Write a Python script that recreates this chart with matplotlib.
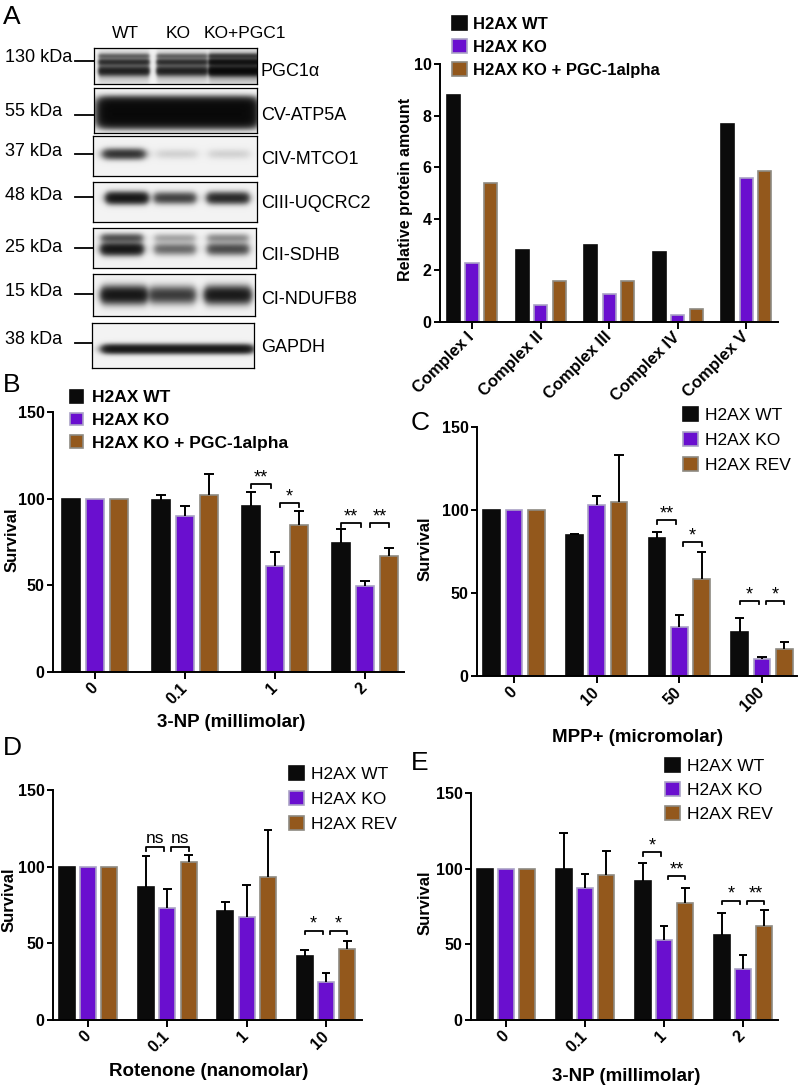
import numpy as np
import matplotlib
matplotlib.use('Agg')
import matplotlib.pyplot as plt
import matplotlib.transforms as mtransforms
from matplotlib.patches import Patch

W, H = 800, 1085

# --- Panel A: western blot ---
lane_names = ['WT', 'KO', 'KO+PGC1']
blot_proteins = ['PGC1α', 'CV-ATP5A', 'CIV-MTCO1', 'CIII-UQCRC2', 'CII-SDHB', 'CI-NDUFB8', 'GAPDH']
blot_markers = ['130 kDa', '55 kDa', '37 kDa', '48 kDa', '25 kDa', '15 kDa', '38 kDa']
band_wt = [0.8, 1.0, 0.65, 1.0, 1.0, 1.0, 1.0]
band_ko = [0.8, 1.0, 0.06, 0.55, 0.35, 0.6, 1.0]
band_pgc = [1.3, 1.0, 0.06, 0.75, 0.5, 0.95, 1.0]

# --- Panel A: quantification ---
legend_a = ['H2AX WT', 'H2AX KO', 'H2AX KO + PGC-1alpha']
complexes = ['Complex I', 'Complex II', 'Complex III', 'Complex IV', 'Complex V']
protein_wt = [8.8, 2.8, 2.97, 2.7, 7.68]
protein_ko = [2.3, 0.65, 1.07, 0.27, 5.57]
protein_pgc = [5.4, 1.58, 1.57, 0.52, 5.87]

# --- Panel B: 3-NP, PGC-1alpha rescue ---
b_doses = ['0', '0.1', '1', '2']
b_wt = [100, 99.4, 95.8, 74.7]
b_wt_sd = [0, 2.6, 8.0, 7.7]
b_ko = [100, 89.8, 61.0, 49.8]
b_ko_sd = [0, 6.2, 8.3, 2.5]
b_pgc = [100, 102.3, 84.7, 66.7]
b_pgc_sd = [0, 11.7, 8.2, 5.1]
b_sig = [(2, 0, 108.6, '**'), (2, 1, 97.5, '*'), (3, 0, 86, '**'), (3, 1, 86, '**')]

# --- Panel C: MPP+ ---
legend_rev = ['H2AX WT', 'H2AX KO', 'H2AX REV']
c_doses = ['0', '10', '50', '100']
c_wt = [100, 84.7, 83.3, 26.4]
c_wt_sd = [0, 1.0, 3.2, 8.3]
c_ko = [100, 103.2, 29.4, 10.1]
c_ko_sd = [0, 5.3, 7.1, 1.6]
c_rev = [100, 105, 58.7, 16.3]
c_rev_sd = [0, 28, 16.1, 4.3]
c_sig = [(2, 0, 94, '**'), (2, 1, 80.8, '*'), (3, 0, 45.4, '*'), (3, 1, 45.4, '*')]

# --- Panel D: rotenone ---
d_doses = ['0', '0.1', '1', '10']
d_wt = [100, 87, 71.3, 41.7]
d_wt_sd = [0, 20.2, 5.4, 4.0]
d_ko = [100, 72.8, 67.4, 25]
d_ko_sd = [0, 12.9, 20.6, 5.9]
d_rev = [100, 103.3, 93.5, 46.3]
d_rev_sd = [0, 4.3, 30.5, 5.4]
d_sig = [(1, 0, 112.6, 'ns'), (1, 1, 112.6, 'ns'), (3, 0, 58.3, '*'), (3, 1, 58.3, '*')]

# --- Panel E: 3-NP, REV ---
e_doses = ['0', '0.1', '1', '2']
e_wt = [100, 100, 91.8, 56.2]
e_wt_sd = [0, 23.8, 12.2, 14.5]
e_ko = [100, 87.3, 52.7, 34]
e_ko_sd = [0, 9.4, 9.5, 8.7]
e_rev = [100, 95.6, 77.3, 62.2]
e_rev_sd = [0, 16, 10, 10.7]
e_sig = [(2, 0, 110.7, '*'), (2, 1, 95.1, '**'), (3, 0, 78.9, '*'), (3, 1, 78.9, '**')]

FACE = ['#0b0b0b', '#6a0fcf', '#93581c']
EDGE = ['#0b0b0b', '#aaa2c6', '#8e8a82']
OFFSET = 0.27

plt.rcParams['font.family'] = ['Liberation Sans', 'DejaVu Sans']

fig = plt.figure(figsize=(W / 100, H / 100), dpi=100)
# pixel coordinates measured from the top-left corner of the picture
pix = mtransforms.Affine2D().scale(1 / W, -1 / H).translate(0, 1) + fig.transFigure


def add_ax(x0, y0, x1, y1):
    return fig.add_axes([x0 / W, 1 - y1 / H, (x1 - x0) / W, (y1 - y0) / H])


def style_axes(ax, lw=1.4):
    for s in ['top', 'right']:
        ax.spines[s].set_visible(False)
    for s in ['left', 'bottom']:
        ax.spines[s].set_linewidth(lw)
    ax.tick_params(width=lw, length=4, pad=2)


def add_legend(ax, labels, x, y, size, bold, sq, gap, spacing):
    handles = [Patch(facecolor=f, edgecolor=e, linewidth=1.2) for f, e in zip(FACE, EDGE)]
    fp = size * 100 / 72
    ax.legend(handles, labels, loc='upper left', bbox_to_anchor=(x, y), bbox_transform=pix,
              frameon=False, borderpad=0, borderaxespad=0, handlelength=sq / fp,
              handleheight=sq / fp, handletextpad=gap / fp, labelspacing=spacing,
              prop={'size': size, 'weight': 'bold' if bold else 'normal'})


# ---------------- Panel A: blot ----------------
# bands: (centre y, sigma y, relative strength, profile power)
BLOTS = [
    dict(box=(94, 48, 257, 84), lanes=[124, 182, 234], hw=25, soft=1.0,
         bands=[(56, 1.8, 0.35, 2), (62, 2.2, 0.65, 2), (71, 3.0, 0.85, 2), (67, 9, 0.25, 2)],
         mark=(58, 61), lab=72),
    dict(box=(94, 88, 257, 133), lanes=[126, 180, 229], hw=27, soft=3.0, merge=True,
         bands=[(113, 12, 1.4, 4)], mark=(112, 115), lab=115),
    dict(box=(93, 136, 257, 176), lanes=[124, 177, 229], hw=20, soft=2.5,
         bands=[(154, 3.5, 1.0, 2)], mark=(151, 154), lab=160),
    dict(box=(93, 182, 257, 222), lanes=[127, 175, 228], hw=20, soft=2.0,
         bands=[(198, 3.8, 1.0, 2)], mark=(195, 197), lab=204),
    dict(box=(93, 228, 256, 268), lanes=[122, 175, 228], hw=20, soft=2.0,
         bands=[(238, 3.0, 0.45, 2), (249, 4.0, 1.0, 2)], mark=(248, 248), lab=255),
    dict(box=(93, 274, 255, 316), lanes=[124, 172, 227], hw=22, soft=2.0,
         bands=[(295, 5.5, 1.0, 2)], mark=(292, 294), lab=300),
    dict(box=(92, 323, 254, 368), lanes=[125, 178, 230], hw=22, soft=2.5, merge=True,
         bands=[(349, 3.0, 1.0, 2)], mark=(340, 343), lab=348),
]

for i, spec in enumerate(BLOTS):
    x0, y0, x1, y1 = spec['box']
    ax = add_ax(x0, y0, x1, y1)
    xs = np.arange(x0, x1) + 0.5
    ys = np.arange(y0, y1) + 0.5
    lanes = spec['lanes']
    strengths = [band_wt[i], band_ko[i], band_pgc[i]]
    if spec.get('merge'):
        env = (1 / (1 + np.exp((lanes[0] - spec['hw'] - xs) / spec['soft'])) *
               1 / (1 + np.exp((xs - lanes[-1] - spec['hw']) / spec['soft'])))
        prof_x = env * np.interp(xs, lanes, strengths)
    else:
        prof_x = np.zeros_like(xs)
        for lx, s in zip(lanes, strengths):
            prof_x += s / (1 + np.exp((np.abs(xs - lx) - spec['hw']) / spec['soft']))
    dark = np.zeros((len(ys), len(xs)))
    for cy, sy, rel, pw in spec['bands']:
        prof_y = np.exp(-0.5 * np.abs((ys - cy) / sy) ** pw)
        dark += rel * prof_y[:, None] * prof_x[None, :]
    img = 0.95 * np.exp(-2.3 * dark)
    ax.imshow(img, cmap='gray', vmin=0, vmax=1, extent=(0, 1, 0, 1), aspect='auto',
              interpolation='bilinear')
    ax.set_xticks([])
    ax.set_yticks([])
    for s in ax.spines.values():
        s.set_linewidth(0.9)
    ty, ly = spec['mark']
    fig.text(72 if i == 0 else 62, ty, blot_markers[i], transform=pix, ha='right', va='center',
             fontsize=13)
    fig.add_artist(plt.Line2D([75, x0], [ly, ly], transform=pix, color='black', lw=1.3))
    fig.text(261, spec['lab'], blot_proteins[i], transform=pix, ha='left', va='center', fontsize=13)

for name, x in zip(lane_names, [125, 178, 245]):
    fig.text(x, 33, name, transform=pix, ha='center', va='center', fontsize=12.5)

# ---------------- Panel A: bar chart ----------------
ax = add_ax(440, 64, 778, 322)
style_axes(ax)
xa = np.arange(len(complexes))
for k, vals in enumerate([protein_wt, protein_ko, protein_pgc]):
    ax.bar(xa + (k - 1) * OFFSET, vals, width=0.19, color=FACE[k], edgecolor=EDGE[k], linewidth=1.2)
ax.set_ylim(0, 10)
ax.set_xlim(-0.467, 4.466)
ax.set_yticks([0, 2, 4, 6, 8, 10])
ax.set_xticks(xa)
ax.set_xticklabels(complexes, rotation=45, ha='right', va='center', rotation_mode='anchor',
                   fontweight='bold', fontsize=12)
ax.tick_params(axis='x', length=5, pad=4)
for t in ax.get_yticklabels():
    t.set_fontweight('bold')
    t.set_fontsize(11.5)
ax.set_ylabel('Relative protein amount', fontweight='bold', fontsize=11.5)
ax.yaxis.set_label_coords(413, 189, transform=pix)
add_legend(ax, legend_a, 452, 16, 12, True, 15, 6, 0.45)


# ---------------- survival panels ----------------
def survival(box, ticks, doses, series, sds, labels, sig, xlabel, xl_pos, yl_pos, leg, bold):
    x0, y0, x1, y1 = box
    ax = add_ax(x0, y0, x1, y1)
    style_axes(ax)
    step = (ticks[-1] - ticks[0]) / 3
    ax.set_xlim((x0 - ticks[0]) / step, (x1 - ticks[0]) / step)
    ax.set_ylim(0, 150)
    x = np.arange(len(doses))
    for k, (vals, sd) in enumerate(zip(series, sds)):
        xp = x + (k - 1) * OFFSET
        ax.bar(xp, vals, width=0.2, color=FACE[k], edgecolor=EDGE[k], linewidth=1.2, zorder=2)
        vals = np.array(vals, float)
        sd = np.array(sd, float)
        m = sd > 0
        ax.vlines(xp[m], vals[m], vals[m] + sd[m], color='black', lw=1.4, zorder=3)
        ax.hlines(vals[m] + sd[m], xp[m] - 0.055, xp[m] + 0.055, color='black', lw=1.4, zorder=3)
    for g, left, yv, txt in sig:
        xa0 = g + (left - 1) * OFFSET + (0.0 if left == 0 else 0.05)
        xa1 = g + left * OFFSET - (0.04 if left == 0 else 0.0)
        ax.plot([xa0, xa0, xa1, xa1], [yv - 2.2, yv, yv, yv - 2.2], color='black', lw=1.3,
                clip_on=False)
        ax.text((xa0 + xa1) / 2, yv + (0.8 if txt == 'ns' else -1.5), txt, ha='center',
                va='bottom', fontsize=12.5 if txt == 'ns' else 13)
    ax.set_yticks([0, 50, 100, 150])
    ax.set_xticks(x)
    ax.set_xticklabels(doses, rotation=45, ha='right', va='center', rotation_mode='anchor',
                       fontweight='bold', fontsize=11.5)
    ax.tick_params(axis='x', length=5, pad=5)
    for t in ax.get_yticklabels():
        t.set_fontweight('bold')
        t.set_fontsize(11.5)
    ax.set_ylabel('Survival', fontweight='bold', fontsize=12)
    ax.yaxis.set_label_coords(*yl_pos, transform=pix)
    ax.set_xlabel(xlabel, fontweight='bold', fontsize=13.5)
    ax.xaxis.set_label_coords(*xl_pos, transform=pix)
    if bold:
        add_legend(ax, labels, leg[0], leg[1], 12.5, True, 13, 9, 0.42)
    else:
        add_legend(ax, labels, leg[0], leg[1], 12.5, False, 15, 7, leg[2])


survival((53, 412, 404, 672), [95, 185, 274, 365], b_doses, [b_wt, b_ko, b_pgc],
         [b_wt_sd, b_ko_sd, b_pgc_sd], legend_a, b_sig, '3-NP (millimolar)',
         (231, 714), (20, 540), (70, 390), True)
survival((477, 427, 797, 676), [514, 597, 679, 762], c_doses, [c_wt, c_ko, c_rev],
         [c_wt_sd, c_ko_sd, c_rev_sd], legend_rev, c_sig, 'MPP+ (micromolar)',
         (637, 729), (433, 549), (683, 407, 0.52), False)
survival((53, 790, 362, 1020), [88, 168, 248, 326], d_doses, [d_wt, d_ko, d_rev],
         [d_wt_sd, d_ko_sd, d_rev_sd], legend_rev, d_sig, 'Rotenone (nanomolar)',
         (209, 1063), (17, 900), (289, 766, 0.52), False)
survival((471, 793, 778, 1020), [506, 585, 663, 743], e_doses, [e_wt, e_ko, e_rev],
         [e_wt_sd, e_ko_sd, e_rev_sd], legend_rev, e_sig, '3-NP (millimolar)',
         (626, 1068), (433, 903), (665, 758, 0.46), False)

# panel letters
for letter, (x, y) in zip('ABCDE', [(12, 17), (12, 385), (420, 423), (12, 748), (420, 763)]):
    fig.text(x, y, letter, transform=pix, ha='center', va='center', fontsize=19)

fig.savefig('out.png', dpi=100)
